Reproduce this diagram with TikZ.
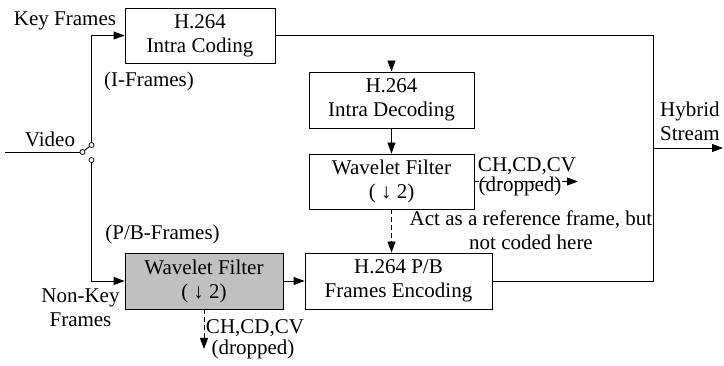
\documentclass[tikz,border=0pt]{standalone}
\usepackage{fontspec}
\setmainfont{Liberation Serif}
\usetikzlibrary{arrows.meta}
\begin{document}
\begin{tikzpicture}[x=1pt,y=-1pt,
  every node/.style={font=\fontsize{21}{24}\selectfont, inner sep=0pt},
  blk/.style={draw, line width=0.9pt, align=center},
  lbl/.style={align=center},
  conn/.style={line width=0.9pt},
  arr/.style={conn, -{Triangle[length=11pt,width=8pt]}},
  darr/.style={arr, dash pattern=on 5pt off 3pt},
  pin/.style={circle, draw, line width=0.8pt, minimum size=5pt, fill=white}]
\useasboundingbox (0,0) rectangle (724,366);

% processing blocks
\node[blk, minimum width=150pt, minimum height=55pt] (enc) at (200,35.5) {H.264\\Intra Coding};
\node[blk, minimum width=165pt, minimum height=56pt] (dec) at (391.5,100) {H.264\\Intra Decoding};
\node[blk, minimum width=165pt, minimum height=55pt] (wf) at (391.5,181.5) {Wavelet Filter\\( ↓ 2)};
\node[blk, minimum width=187pt, minimum height=56pt] (pb) at (398.5,281) {H.264 P/B\\Frames Encoding};
\node[blk, fill={rgb,255:red,192;green,192;blue,192}, minimum width=158pt, minimum height=56pt] (wg) at (204,281) {Wavelet Filter\\( ↓ 2)};

% input switch
\coordinate (vin) at (5,152);
\node[pin] (s0) at (82.5,152) {};
\node[pin] (s1) at (91.5,145) {};
\node[pin] (s2) at (91.5,160) {};
\draw[conn] (vin) -- (s0.west);
\draw[conn] (s0) -- (s1);
\draw[arr] (s1.north) |- (enc.west);
\draw[arr] (s2.south) |- (wg.west);

% main path
\coordinate (join) at (653,148);
\coordinate (out) at (723,148);
\draw[conn] (enc.east) -| (join);
\draw[conn] (pb.east) -| (join);
\draw[arr] (join) -- (out);
\draw[arr] (enc.south -| dec.north) -- (dec.north);
\draw[arr] (dec.south) -- (wf.north);
\draw[darr] (wf.south) -- (pb.north -| wf.south);
\draw[arr] (wg.east) -- (pb.west);

% dropped sub-bands
\coordinate (drop1) at (578,181.5);
\draw[darr] (wf.east) -- (drop1);
\coordinate (drop2) at (204,349);
\draw[darr] (wg.south) -- (drop2);

% labels
\node[lbl] (tkey) at (65,21) {Key Frames};
\node[lbl] (tiframe) at (149,81) {(I-Frames)};
\node[lbl] (tvideo) at (50,139) {Video};
\node[lbl] (tpb) at (162.5,234) {(P/B-Frames)};
\node[lbl] (tnonkey) at (80.5,308) {Non-Key\\Frames};
\node[anchor=west, align=left] (thybrid) at (660,121.5) {Hybrid\\Stream};
\node[lbl] (tcv1) at (527,166) {CH,CD,CV};
\node[lbl] (tdr1) at (520,186) {(dropped)};
\node[lbl] (tref) at (531,230.5) {Act as a reference frame, but\\not coded here};
\node[lbl] (tcv2) at (255,328) {CH,CD,CV};
\node[lbl] (tdr2) at (253,349) {(dropped)};
\end{tikzpicture}
\end{document}
